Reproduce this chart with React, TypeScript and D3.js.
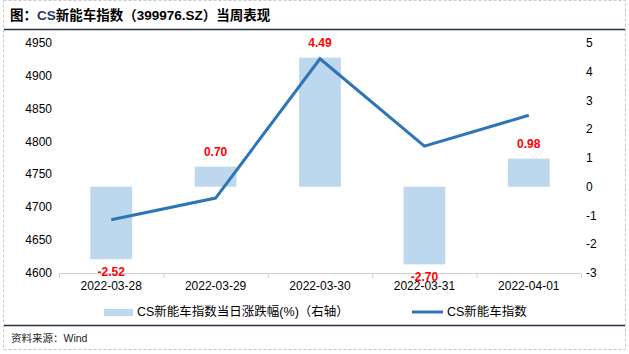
import * as d3 from 'd3';
import React from 'react';

const dates = ['2022-03-28', '2022-03-29', '2022-03-30', '2022-03-31', '2022-04-01'];
const pctChange = [-2.52, 0.7, 4.49, -2.7, 0.98];
const indexValues = [4681, 4714, 4926, 4793, 4840];
const leftTicks = [4600, 4650, 4700, 4750, 4800, 4850, 4900, 4950];
const rightTicks = [-3, -2, -1, 0, 1, 2, 3, 4, 5];

const W = 629;
const H = 354;
const font = 'Arial, "Liberation Sans", "Noto Sans CJK SC", sans-serif';

export default function App() {
  const x = d3.scaleBand().domain(dates).range([59, 581]).paddingInner(0.6).paddingOuter(0.3);
  const band = d3.scaleBand().domain(dates).range([59, 581]);
  const yL = d3.scaleLinear().domain([4600, 4950]).range([273, 43]);
  const yR = d3.scaleLinear().domain([-3, 5]).range([273, 43]);

  const line = d3
    .line<number>()
    .x((_, i) => (band(dates[i]) ?? 0) + band.bandwidth() / 2)
    .y(d => yL(d));

  return (
    <svg
      width={W}
      height={H}
      style={{ position: 'absolute', left: 0, top: 0, fontFamily: font }}
    >
      <rect x={0} y={0} width={W} height={H} fill="#fff" />
      {/* outer dashed frame */}
      <rect x={3.5} y={0.5} width={622} height={349} fill="none" stroke="#c8c8c8" strokeDasharray="3,2" />

      <text x={10} y={20} fontSize={13.5} fontWeight="bold" fill="#000">
        图：<tspan fill="#1f3864">CS</tspan>新能车指数（399976.SZ）当周表现
      </text>
      <line x1={4} x2={625} y1={29.5} y2={29.5} stroke="#243444" strokeWidth={1.3} />

      {/* left axis */}
      {leftTicks.map(t => (
        <text key={t} x={52} y={yL(t) + 4} fontSize={12} textAnchor="end" fill="#000">
          {t}
        </text>
      ))}
      {/* right axis */}
      {rightTicks.map(t => (
        <text key={t} x={586} y={yR(t) + 4} fontSize={12} fill="#000">
          {t}
        </text>
      ))}

      {/* bars */}
      {dates.map((d, i) => {
        const v = pctChange[i];
        const y0 = yR(0);
        const y1 = yR(v);
        return (
          <rect
            key={d}
            x={x(d)}
            width={x.bandwidth()}
            y={Math.min(y0, y1)}
            height={Math.abs(y1 - y0)}
            fill="#bdd7ee"
          />
        );
      })}

      {/* x axis */}
      <line x1={59} x2={581} y1={273.5} y2={273.5} stroke="#d0d0d0" />
      {[...dates.map(d => band(d) ?? 0), 581].map((p, i) => (
        <line key={i} x1={p + 0.5} x2={p + 0.5} y1={273} y2={278} stroke="#d0d0d0" />
      ))}
      {dates.map(d => (
        <text
          key={d}
          x={(band(d) ?? 0) + band.bandwidth() / 2}
          y={290}
          fontSize={12}
          textAnchor="middle"
          fill="#000"
        >
          {d}
        </text>
      ))}

      {/* line */}
      <path d={line(indexValues) ?? ''} fill="none" stroke="#2e75b6" strokeWidth={3} />

      {/* value labels */}
      {dates.map((d, i) => {
        const v = pctChange[i];
        const cx = (x(d) ?? 0) + x.bandwidth() / 2;
        const ly = v >= 0 ? yR(v) - 11 : yR(v) + 17;
        return (
          <text key={d} x={cx} y={ly} fontSize={12} fontWeight="bold" textAnchor="middle" fill="#ff0000">
            {v.toFixed(2)}
          </text>
        );
      })}

      {/* legend */}
      <rect x={104} y={309} width={29} height={7} fill="#bdd7ee" />
      <text x={137} y={316} fontSize={12.5} fill="#000">
        CS新能车指数当日涨跌幅(%)（右轴）
      </text>
      <line x1={412} x2={443} y1={312} y2={312} stroke="#2e75b6" strokeWidth={3} />
      <text x={447} y={316} fontSize={12.5} fill="#000">
        CS新能车指数
      </text>

      <line x1={4} x2={625} y1={325.5} y2={325.5} stroke="#243444" strokeWidth={1.3} />
      <text x={11} y={342} fontSize={10.5} fill="#222">
        资料来源：Wind
      </text>
    </svg>
  );
}
